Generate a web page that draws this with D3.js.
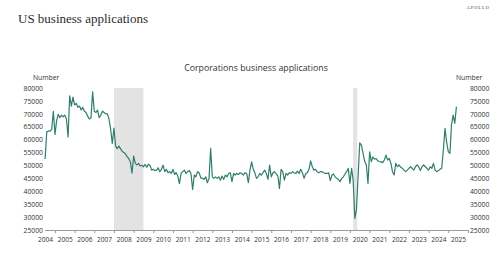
<!DOCTYPE html>
<html>
<head>
<meta charset="utf-8">
<script src="https://cdn.jsdelivr.net/npm/d3@7"></script>
<style>
  body { margin: 0; background: #fff; }
  text { font-family: "Open Sans", "Noto Sans", sans-serif; fill: #333; }
</style>
</head>
<body>
<div id="chart"></div>
<script>
// monthly corporations business applications, starting July 2004
const startMonth = "2004-07";
const applications = [
    52500, 63000, 63300, 63300, 64000, 71000,
    62000, 67500, 69800, 68500, 69500, 68800, 69500, 68000, 61000, 77000, 73000, 76500,
    73500, 74000, 72500, 73000, 71500, 72500, 71000, 70500, 69000, 68000, 68500, 78500,
    71000, 70500, 71500, 68500, 69500, 71000, 70500, 70000, 70000, 68000, 64000, 58500,
    64500, 57500, 56500, 57500, 56500, 55500, 55000, 54500, 53400, 52700, 51400, 47000,
    53600, 50800, 50200, 50800, 49800, 50100, 49500, 50400, 49300, 50500, 50000, 48200,
    48500, 48000, 48200, 49100, 47600, 48500, 50100, 47600, 48500, 47200, 47600, 46900,
    48500, 46500, 47200, 45900, 43000, 46900, 47600, 48200, 46900, 47600, 48000, 46900,
    40700, 46300, 45600, 47600, 47200, 45200, 45000, 44600, 45600, 43300, 45000, 56600,
    45600, 45000, 45600, 45000, 45600, 44300, 45900, 44600, 46300, 45600, 46900, 47200,
    43700, 46900, 46300, 46900, 46500, 47200, 46900, 46300, 47200, 46900, 43300, 48200,
    51400, 48500, 47200, 45000, 45600, 46900, 46300, 47200, 48200, 46900, 44600, 50100,
    45600, 47200, 47600, 46700, 46000, 41100, 48500, 47600, 44300, 46900, 46300, 47200,
    46900, 47600, 47200, 46900, 47800, 46900, 48500, 47200, 45000, 46900, 47200, 48500,
    51800, 49500, 48200, 48500, 47600, 47200, 47600, 47600, 47200, 46900, 46900, 47200,
    44100, 46300, 46700, 45600, 45000, 44600, 43700, 45000, 45600, 46700, 47600, 48900,
    43000, 48900, 44300, 29500, 33000, 46000, 58800, 57900, 54700, 51500, 50200, 43000,
    55300, 51500, 53300, 52400, 52700, 51800, 51500, 51400, 51100, 52100, 54000, 52100,
    52700, 50800, 47600, 46300, 50800, 49500, 50200, 49300, 48900, 48200, 47600, 48200,
    48900, 49500, 48900, 48200, 49500, 50200, 49500, 48000, 49500, 50200, 49500, 48900,
    48200, 49500, 48900, 50800, 48200, 47600, 48000, 48500, 48900, 56000, 64400, 59000,
    55300, 54700, 65700, 69500, 66300, 72800
];

// recession periods (shaded)
const recessionStarts = ["2008-01-01", "2020-03-01"];
const recessionEnds = ["2009-07-01", "2020-05-15"];

// axis labels
const years = d3.range(2004, 2026);
const yTicks = [25000, 30000, 35000, 40000, 45000, 50000, 55000, 60000, 65000, 70000, 75000, 80000];

const parseMonth = d3.timeParse("%Y-%m");
const parseDay = d3.timeParse("%Y-%m-%d");
const start = parseMonth(startMonth);
const data = applications.map((v, i) => ({date: d3.timeMonth.offset(start, i), value: v}));

const width = 500, height = 260;

const svg = d3.select("#chart")
    .append("svg")
    .attr("width", width)
    .attr("height", height);

// scales
const x = d3.scaleTime()
    .domain([new Date(2005, 0, 1), new Date(2025, 0, 1)])
    .range([55, 448.3]);
const y = d3.scaleLinear()
    .domain([25000, 80000])
    .range([230, 88]);

// titles
svg.append("text")
    .attr("x", 18)
    .attr("y", 23)
    .style("font-family", "'Liberation Serif', 'DejaVu Serif', serif")
    .style("font-size", "13px")
    .style("fill", "#2b2b2b")
    .text("US business applications");

svg.append("text")
    .attr("x", 490)
    .attr("y", 9)
    .attr("text-anchor", "end")
    .style("font-family", "'Liberation Serif', serif")
    .style("font-size", "4.6px")
    .style("letter-spacing", "0.9px")
    .style("fill", "#444")
    .text("APOLLO");

svg.append("text")
    .attr("x", 256)
    .attr("y", 71)
    .attr("text-anchor", "middle")
    .style("font-size", "8.8px")
    .text("Corporations business applications");

svg.append("text")
    .attr("x", 33)
    .attr("y", 80)
    .style("font-size", "6.8px")
    .text("Number");
svg.append("text")
    .attr("x", 456)
    .attr("y", 80)
    .style("font-size", "6.8px")
    .text("Number");

// recession shading
svg.selectAll("rect.recession")
    .data(recessionStarts.map((s, i) => [parseDay(s), parseDay(recessionEnds[i])]))
    .enter()
    .append("rect")
    .attr("class", "recession")
    .attr("x", d => x(d[0]))
    .attr("width", d => x(d[1]) - x(d[0]))
    .attr("y", y(80000))
    .attr("height", y(25000) - y(80000))
    .attr("fill", "#e3e3e3");

// x axis: ticks at year boundaries, labels mid-year
const xLine = svg.append("g")
    .attr("transform", `translate(0,${y(25000)})`)
    .call(d3.axisBottom(x)
        .tickValues(d3.range(2005, 2027).map(yr => new Date(yr, 0, 1)))
        .tickSize(3)
        .tickSizeOuter(0)
        .tickFormat(""));
xLine.select(".domain")
    .attr("d", `M${x(new Date(2004, 6, 1))},0.5H${x(new Date(2026, 0, 1))}`)
    .attr("stroke", "#9a9a9a");
xLine.selectAll(".tick line").attr("stroke", "#9a9a9a");

const xLabels = svg.append("g")
    .attr("transform", `translate(0,${y(25000)})`)
    .call(d3.axisBottom(x)
        .tickValues(years.map(yr => new Date(yr, 6, 1)))
        .tickSize(0)
        .tickPadding(7)
        .tickFormat(d3.timeFormat("%Y")));
xLabels.select(".domain").remove();
xLabels.selectAll("text")
    .style("font-family", "'Open Sans', sans-serif")
    .style("font-size", "6.6px")
    .style("fill", "#333");

// y axes on both sides
const yLeft = svg.append("g")
    .attr("transform", "translate(45,0)")
    .call(d3.axisLeft(y).tickValues(yTicks).tickSize(0).tickPadding(2).tickFormat(d3.format("d")));
const yRight = svg.append("g")
    .attr("transform", `translate(${x(new Date(2026, 0, 1))},0)`)
    .call(d3.axisRight(y).tickValues(yTicks).tickSize(0).tickPadding(2).tickFormat(d3.format("d")));
[yLeft, yRight].forEach(g => {
    g.select(".domain").remove();
    g.selectAll("text")
        .style("font-family", "'Open Sans', sans-serif")
        .style("font-size", "6.8px")
        .style("fill", "#333");
});

// the line
const line = d3.line()
    .x(d => x(d.date))
    .y(d => y(d.value));

svg.append("path")
    .datum(data)
    .attr("fill", "none")
    .attr("stroke", "#2f7d6d")
    .attr("stroke-width", 1.2)
    .attr("stroke-linejoin", "round")
    .attr("d", line);
</script>
</body>
</html>
